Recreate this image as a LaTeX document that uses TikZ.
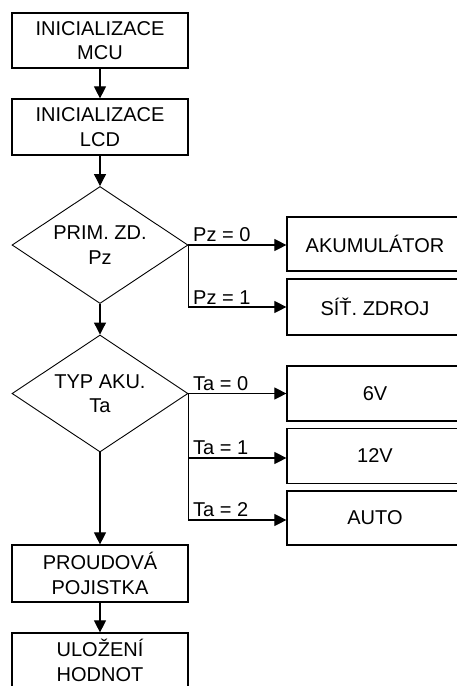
\documentclass[tikz,border=0pt]{standalone}
\usepackage{fontspec}
\setmainfont{Liberation Sans}
\usetikzlibrary{shapes.geometric,arrows.meta}
\begin{document}
\begin{tikzpicture}[x=1pt,y=-1pt,
  every node/.style={font=\fontsize{20}{24.5}\selectfont, inner sep=0pt},
  box/.style={draw, line width=1.2pt, minimum width=176pt, minimum height=55pt, align=center},
  dec/.style={draw, line width=0.9pt, diamond, minimum width=176pt, minimum height=117pt},
  dtext/.style={align=center},
  conn/.style={line width=1.1pt, -{Triangle[length=12pt,width=12pt]}},
  lbl/.style={anchor=base west}]
\useasboundingbox (0,0) rectangle (457,686);
\clip (0,0) rectangle (457,686);
\node[box] (mcu) at (100,40.5) {INICIALIZACE\\MCU};
\node[box, minimum height=56pt] (lcd) at (100,127) {INICIALIZACE\\LCD};
\node[dec] (pz) at (100,245) {};
\node[dtext] (pzt) at (pz) {PRIM. ZD.\\Pz};
\node[box, minimum height=54pt] (akum) at (375,244) {AKUMULÁTOR};
\node[box, minimum height=56pt] (sit) at (375,307) {SÍŤ. ZDROJ};
\node[dec] (ta) at (100,393.5) {};
\node[dtext] (tat) at (ta) {TYP AKU.\\Ta};
\node[box] (v6) at (375,393.5) {6V};
\node[box] (v12) at (375,456) {12V};
\node[box, minimum height=54pt] (auto) at (375,518) {AUTO};
\node[box, minimum height=57pt] (pojist) at (100,573.5) {PROUDOVÁ\\POJISTKA};
\node[box] (ulozeni) at (100,660.5) {ULOŽENÍ\\HODNOT};
\node[lbl] (lpz0) at (193,241) {Pz = 0};
\node[lbl] (lpz1) at (193,304) {Pz = 1};
\node[lbl] (lta0) at (193,390) {Ta = 0};
\node[lbl] (lta1) at (193,454) {Ta = 1};
\node[lbl] (lta2) at (193,516) {Ta = 2};
\draw[conn] (mcu) -- (lcd);
\draw[conn] (lcd) -- (pz);
\draw[conn] (pz.east) -- (pz.east -| akum.west);
\draw[conn] (pz.east) |- (sit.west);
\draw[conn] (pz) -- (ta);
\draw[conn] (ta.east) -- (ta.east -| v6.west);
\draw[conn] (ta.east) |- ([yshift=-2pt]v12.west);
\draw[conn] (ta.east) |- ([yshift=-2pt]auto.west);
\draw[conn] (ta) -- (pojist);
\draw[conn] (pojist) -- (ulozeni);
\end{tikzpicture}
\end{document}
